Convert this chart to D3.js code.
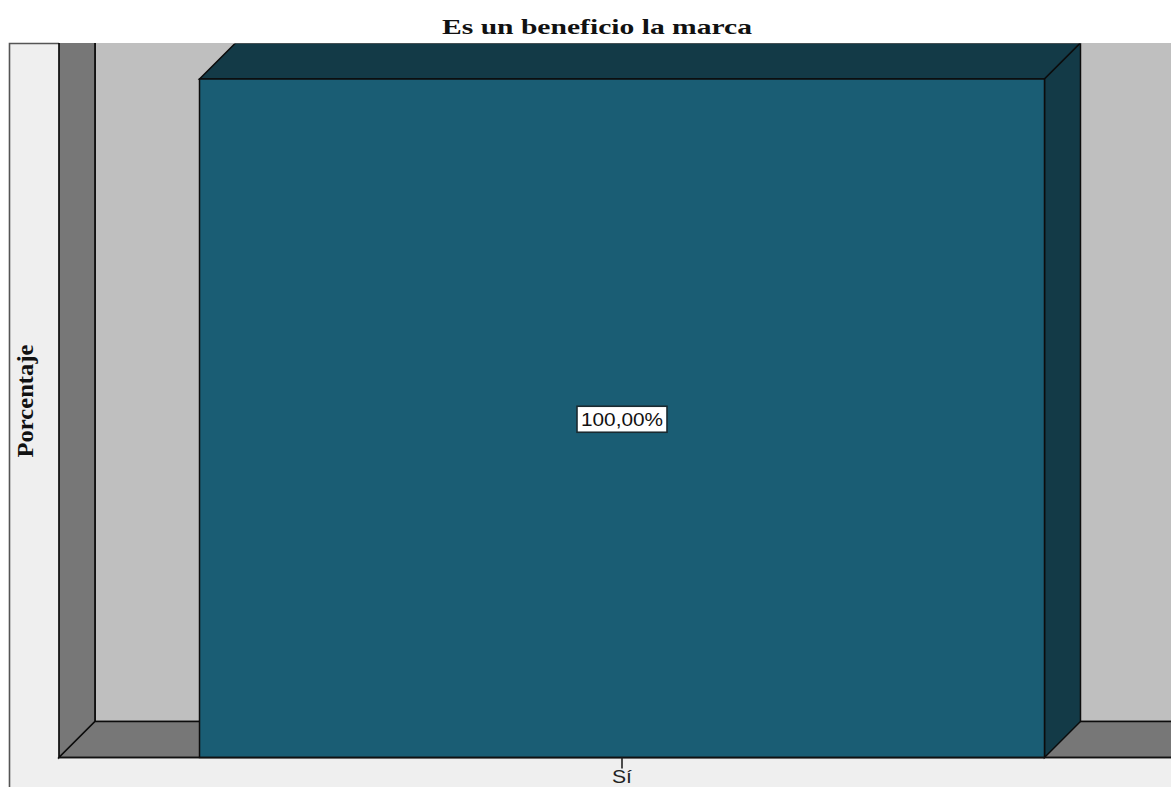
<!DOCTYPE html>
<html><head><meta charset="utf-8">
<script src="https://cdn.jsdelivr.net/npm/d3@7"></script>
<style>html,body{margin:0;padding:0;background:#fff;overflow:hidden}svg{display:block}</style>
</head><body><div id="c"></div>
<script>
const categories = ["Sí"];
const percentages = [100];
const labels = ["100,00%"];
const titleText = "Es un beneficio la marca";
const yTitle = "Porcentaje";

const W = 1171, H = 787;
const svg = d3.select("#c").append("svg").attr("width", W).attr("height", H);
const stroke = "#0c0c0c";
const x = d3.scaleBand().domain(categories).range([59, 1185]).paddingInner(0).paddingOuter(0.1663);
const y = d3.scaleLinear().domain([0, 100]).range([757.5, 79]);
const dx = 36, dy = -36;
const x0 = x.range()[0], y0 = y(0), right = 1175;
const line = d3.line();

// outer frame background
svg.append("rect").attr("x", 10).attr("y", 44).attr("width", W).attr("height", H).attr("fill", "#efefef");
svg.append("path").attr("d", line([[9.5, H], [9.5, 43.5], [59, 43.5]])).attr("fill", "none").attr("stroke", "#555").attr("stroke-width", 1.6);
// back wall
svg.append("rect").attr("x", x0 + dx).attr("y", 43).attr("width", W).attr("height", y0 + dy - 43).attr("fill", "#bfbfbf");
svg.append("path").attr("d", line([[x0 + dx, 43], [x0 + dx, y0 + dy], [right, y0 + dy]])).attr("fill", "none").attr("stroke", stroke).attr("stroke-width", 1.5);
// left wall
svg.append("path").attr("d", line([[x0, 43], [x0 + dx, 43], [x0 + dx, y0 + dy], [x0, y0]]) + "Z").attr("fill", "#777777");
svg.append("path").attr("d", line([[x0, 43], [x0, y0], [x0 + dx, y0 + dy], [x0 + dx, 43]])).attr("fill", "none").attr("stroke", stroke).attr("stroke-width", 1.7);
// floor
svg.append("path").attr("d", line([[x0, y0], [x0 + dx, y0 + dy], [right, y0 + dy], [right, y0]]) + "Z").attr("fill", "#777777").attr("stroke", stroke).attr("stroke-width", 1.5);

// plot clip for the bar's top
const clip = svg.append("defs").append("clipPath").attr("id", "plot");
clip.append("rect").attr("x", 0).attr("y", 43.5).attr("width", W).attr("height", H);
const g = svg.append("g").attr("clip-path", "url(#plot)");
g.selectAll("path.top").data(percentages).join("path").attr("class", "top")
  .attr("d", (d, i) => { const a = x(categories[i]), b = a + x.bandwidth(), t = y(d);
    return line([[a, t], [b, t], [b + dx, t + dy], [a + dx, t + dy]]) + "Z"; })
  .attr("fill", "#133a47").attr("stroke", stroke).attr("stroke-width", 1.5);
g.selectAll("path.side").data(percentages).join("path").attr("class", "side")
  .attr("d", (d, i) => { const b = x(categories[i]) + x.bandwidth(), t = y(d);
    return line([[b, t], [b + dx, t + dy], [b + dx, y0 + dy], [b, y0]]) + "Z"; })
  .attr("fill", "#133a47").attr("stroke", stroke).attr("stroke-width", 1.5);
g.selectAll("rect.front").data(percentages).join("rect").attr("class", "front")
  .attr("x", (d, i) => x(categories[i])).attr("width", x.bandwidth())
  .attr("y", d => y(d)).attr("height", d => y0 - y(d))
  .attr("fill", "#1a5d74").attr("stroke", stroke).attr("stroke-width", 1.5);

// x axis
const ax = svg.append("g").attr("transform", `translate(0,${y0})`).call(d3.axisBottom(x).tickSize(11).tickPadding(2));
ax.select(".domain").attr("d", `M${x0},0H${W}`).attr("stroke", "#111").attr("stroke-width", 1.6);
ax.selectAll(".tick line").attr("stroke", "#222").attr("stroke-width", 1.6);
ax.selectAll("text").attr("font-family", "Liberation Sans").attr("font-size", 18).attr("fill", "#222")
  .attr("textLength", 20).attr("lengthAdjust", "spacingAndGlyphs");

// data labels
const lab = svg.selectAll("g.lab").data(percentages).join("g").attr("class", "lab")
  .attr("transform", (d, i) => `translate(${x(categories[i]) + x.bandwidth() / 2},${y(d / 2)})`);
lab.append("rect").attr("x", -45).attr("y", -12).attr("width", 90).attr("height", 26).attr("fill", "#fff").attr("stroke", "#1a2a30").attr("stroke-width", 1.6);
lab.append("text").text((d, i) => labels[i]).attr("text-anchor", "middle").attr("y", 8)
  .attr("font-family", "Liberation Sans").attr("font-size", 18).attr("fill", "#111")
  .attr("textLength", 82).attr("lengthAdjust", "spacingAndGlyphs");

// titles
svg.append("text").text(titleText).attr("x", 597).attr("y", 34).attr("text-anchor", "middle")
  .attr("font-family", "Liberation Serif").attr("font-weight", "bold").attr("font-size", 22).attr("fill", "#111")
  .attr("textLength", 310).attr("lengthAdjust", "spacingAndGlyphs");
svg.append("text").text(yTitle).attr("transform", "translate(33,401) rotate(-90)").attr("text-anchor", "middle")
  .attr("font-family", "Liberation Serif").attr("font-weight", "bold").attr("font-size", 23).attr("fill", "#111")
  .attr("textLength", 113).attr("lengthAdjust", "spacingAndGlyphs");
</script></body></html>
